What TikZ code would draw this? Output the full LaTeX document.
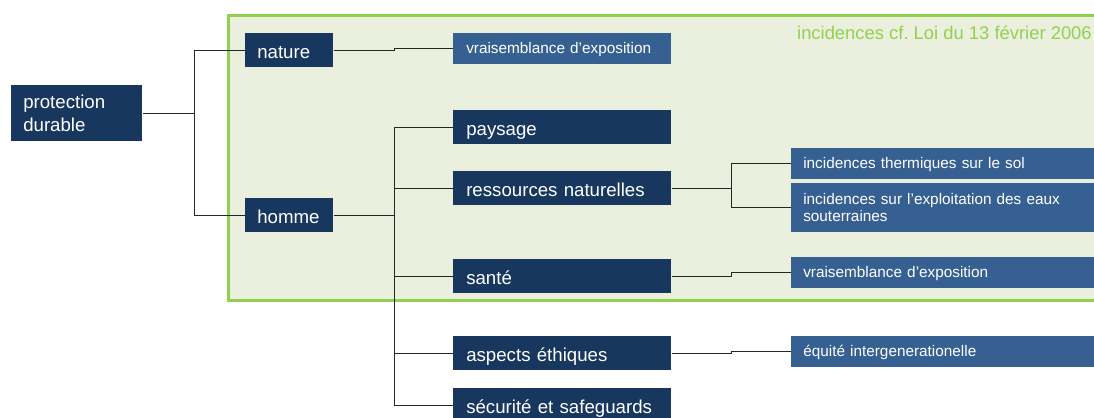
\documentclass[tikz,border=0pt]{standalone}
\usepackage{fontspec}
\setmainfont{Liberation Sans}
\definecolor{navy}{HTML}{17375E}
\definecolor{steel}{HTML}{366092}
\definecolor{lgreen}{HTML}{92D050}
\definecolor{lfill}{HTML}{EBF0DE}
\begin{document}
\begin{tikzpicture}[x=0.75pt,y=-0.75pt,
  base/.style={anchor=north west, inner xsep=9pt, inner ysep=0pt, align=left, text=white},
  mainbox/.style={base, fill=navy, font=\fontsize{14}{17}\selectfont},
  onel/.style={text height=13pt, text depth=0pt},
  wide/.style={onel, inner xsep=9.75pt, text width=144pt, minimum height=25.5pt},
  subbox/.style={base, fill=steel, font=\fontsize{11.5}{13}\selectfont},
  ones/.style={text height=7.5pt, text depth=0pt},
  rbox/.style={subbox, text width=221.25pt, minimum height=23.25pt},
  conn/.style={draw=black!85, line width=1pt}]
\useasboundingbox (0,0) rectangle (1094,417);
% green frame
\draw[draw=lgreen, fill=lfill, line width=2.25pt] (228,16) rectangle (1120,300);
\node[anchor=base east, text=lgreen, inner sep=0pt, font=\fontsize{13.8}{16}\selectfont] (loi) at (1092,39.5) {incidences cf.\ Loi du 13 février 2006};
% nodes
\node[mainbox, text width=80.25pt, minimum height=42pt] (prot) at (11,85) {protection\\durable};
\node[mainbox, onel, text width=48pt, minimum height=25.5pt] (nature) at (245,33) {nature};
\node[mainbox, onel, text width=48pt, minimum height=25.5pt] (homme) at (245,198) {homme};
\node[subbox, ones, inner xsep=9.75pt, text width=144pt, minimum height=23.25pt] (vr1) at (453,33) {vraisemblance d’exposition};
\node[mainbox, wide] (pays) at (453,110) {paysage};
\node[mainbox, wide] (res) at (453,171) {ressources naturelles};
\node[mainbox, wide] (sante) at (453,259) {santé};
\node[mainbox, wide] (eth) at (453,336) {aspects éthiques};
\node[mainbox, wide] (secu) at (453,388) {sécurité et safeguards};
\node[rbox, ones] (therm) at (791,148) {incidences thermiques sur le sol};
\node[rbox, minimum height=36.75pt] (eaux) at (791,183) {incidences sur l’exploitation des eaux\\souterraines};
\node[rbox, ones] (vr2) at (791,257) {vraisemblance d’exposition};
\node[rbox, ones] (equi) at (791,336) {équité intergenerationelle};
% connectors
\draw[conn] (prot.east) -- ++(52,0) coordinate (j1);
\draw[conn] (j1) |- (nature.west);
\draw[conn] (j1) |- (homme.west);
\draw[conn] (nature.east) -- ++(61,0) |- (vr1.west);
\draw[conn] (homme.east) -- ++(61,0) coordinate (j2);
\draw[conn] (j2) |- (pays.west);
\draw[conn] (j2) |- (res.west);
\draw[conn] (j2) |- (sante.west);
\draw[conn] (j2) |- (eth.west);
\draw[conn] (j2) |- (secu.west);
\draw[conn] (res.east) -- ++(60,0) coordinate (j3);
\draw[conn] (j3) |- (therm.west);
\draw[conn] (j3) |- (eaux.west);
\draw[conn] (sante.east) -- ++(60,0) |- (vr2.west);
\draw[conn] (eth.east) -- ++(60,0) |- (equi.west);
\end{tikzpicture}
\end{document}
